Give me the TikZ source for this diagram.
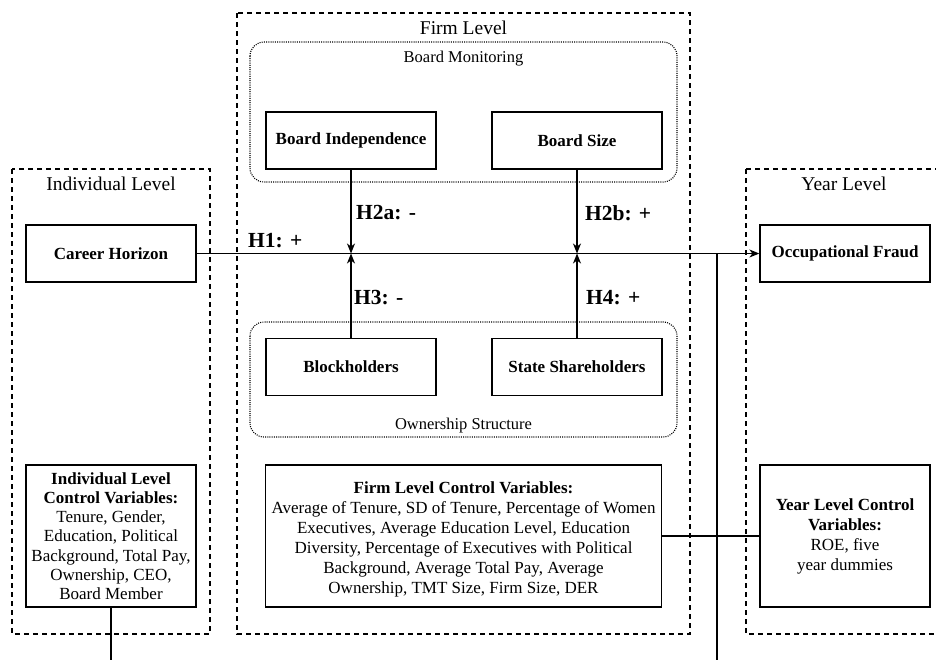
\documentclass[tikz,border=0pt]{standalone}
\usepackage{fontspec}
\setmainfont{Liberation Serif}[BoldFont={Liberation Serif Bold}]
\usetikzlibrary{arrows.meta}
\newcommand{\boxfont}{\fontsize{17}{20}\selectfont}
\newcommand{\tightfont}{\fontsize{17}{19.2}\selectfont}
\newcommand{\grpfont}{\fontsize{16.5}{19}\selectfont}
\newcommand{\lvlfont}{\fontsize{19.5}{22}\selectfont}
\newcommand{\hypfont}{\fontsize{21.5}{24}\selectfont\bfseries}
\tikzset{
  varbox/.style={draw, line width=1.3pt, align=center, inner sep=0pt, font=\boxfont},
  keybox/.style={varbox, font=\boxfont\bfseries, minimum width=170pt, minimum height=57pt},
  lvlframe/.style={draw, line width=1.2pt, dash pattern=on 5pt off 4pt},
  grpframe/.style={draw, line width=1.1pt, dash pattern=on 1pt off 1.2pt, rounded corners=14pt},
  lvltitle/.style={font=\lvlfont, inner sep=0pt},
  grptitle/.style={font=\grpfont, inner sep=0pt},
  hyp/.style={font=\hypfont, inner sep=0pt, anchor=west},
  conn/.style={line width=1.3pt},
  arr/.style={line width=1.3pt, -{Stealth[length=10pt, width=8pt, inset=3pt]}},
}
\begin{document}
\begin{tikzpicture}[x=1pt, y=-1pt]
\useasboundingbox (0,0) rectangle (936,659);
\fill[white] (0,0) rectangle (936,659);
% level frames
\draw[lvlframe] (12,169) rectangle (210,634);
\draw[lvlframe] (237,13) rectangle (690,634);
\draw[lvlframe] (746,169) rectangle (945,634);
\node[lvltitle] (tind) at (111,184) {Individual Level};
\node[lvltitle] (tfirm) at (463.5,28) {Firm Level};
\node[lvltitle] (tyear) at (844,184) {Year Level};
% group frames
\draw[grpframe] (250,42) rectangle (677,182);
\draw[grpframe] (250,322) rectangle (677,437);
\node[grptitle] (tbm) at (463.5,59) {Board Monitoring};
\node[grptitle] (tos) at (463.5,426) {Ownership Structure};
% boxes
\node[keybox] (ch) at (111,253.5) {Career Horizon};
\node[keybox] (of) at (845,253.5) {Occupational Fraud};
\node[keybox] (bi) at (351,140.5) {Board Independence};
\node[keybox] (bs) at (577,140.5) {Board Size};
\node[keybox] (bh) at (351,367) {Blockholders};
\node[keybox] (ss) at (577,367) {State Shareholders};
\node[varbox, font=\tightfont, minimum width=170pt, minimum height=142pt] (ic) at (111,536)
  {\textbf{Individual Level}\\ \textbf{Control Variables:}\\ Tenure, Gender,\\ Education, Political\\ Background, Total Pay,\\ Ownership, CEO,\\ Board Member};
\node[varbox, minimum width=396pt, minimum height=142pt] (fc) at (463.5,536)
  {\rule{0pt}{18pt}\textbf{Firm Level Control Variables:}\\ Average of Tenure, SD of Tenure, Percentage of Women\\ Executives, Average Education Level, Education\\ Diversity, Percentage of Executives with Political\\ Background, Average Total Pay, Average\\ Ownership, TMT Size, Firm Size, DER};
\node[varbox, minimum width=170pt, minimum height=142pt] (yc) at (845,536)
  {\textbf{Year Level Control}\\ \textbf{Variables:}\\ ROE, five\\ year dummies};
% junction coordinates
\coordinate (j1) at (351,253.5);
\coordinate (j2) at (577,253.5);
\coordinate (j3) at (717,253.5);
\coordinate (e3) at (717,670);
\coordinate (e1) at (111,670);
% connectors
\draw[arr] (ch.east) -- (of.west);
\draw[arr] (bi.south) -- (j1);
\draw[arr] (bs.south) -- (j2);
\draw[arr] (bh.north) -- (j1);
\draw[arr] (ss.north) -- (j2);
\draw[conn] (j3) -- (e3);
\draw[conn] (fc.east) -- (yc.west);
\draw[conn] (ic.south) -- (e1);
% hypothesis labels
\node[hyp] (h1) at (248,241) {H1: +};
\node[hyp] (h2a) at (356,213) {H2a: -};
\node[hyp] (h2b) at (585,213) {H2b: +};
\node[hyp] (h3) at (354,298) {H3: -};
\node[hyp] (h4) at (586,298) {H4: +};
\end{tikzpicture}
\end{document}
